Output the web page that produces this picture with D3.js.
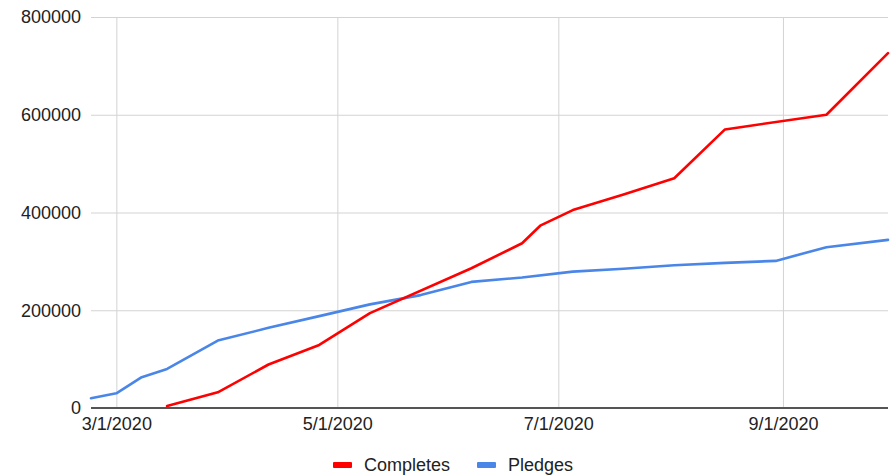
<!DOCTYPE html>
<html>
<head>
<meta charset="utf-8">
<script src="https://cdn.jsdelivr.net/npm/d3@7/dist/d3.min.js"></script>
<style>
  html, body { margin: 0; padding: 0; background: #fff; }
  svg { display: block; font-family: "Liberation Sans", Arial, Helvetica, sans-serif; }
</style>
</head>
<body>
<svg id="chart" width="890" height="476"></svg>
<script>
// Cumulative counts, 2020
const completeDates = ["2020-03-15", "2020-03-29", "2020-04-12", "2020-04-26", "2020-05-10",
  "2020-06-07", "2020-06-21", "2020-06-26", "2020-07-05", "2020-07-19", "2020-08-02",
  "2020-08-16", "2020-09-13", "2020-09-30"];
const completeValues = [4000, 32000, 89000, 129000, 194000,
  286000, 337000, 373000, 405000, 437000, 470000,
  570000, 600000, 726000];

const pledgeDates = ["2020-02-23", "2020-03-01", "2020-03-08", "2020-03-15", "2020-03-29",
  "2020-04-12", "2020-04-26", "2020-05-10", "2020-05-24", "2020-06-07", "2020-06-21",
  "2020-07-05", "2020-07-19", "2020-08-02", "2020-08-16", "2020-08-30", "2020-09-13", "2020-09-30"];
const pledgeValues = [20000, 30000, 63000, 80000, 138000,
  164000, 188000, 212000, 231000, 258000, 267000,
  279000, 285000, 292000, 297000, 301000, 329000, 344000];

const xTickDates = ["2020-03-01", "2020-05-01", "2020-07-01", "2020-09-01"];
const yTickValues = [0, 200000, 400000, 600000, 800000];
const domainStart = "2020-02-23";
const domainEnd = "2020-09-30";

const seriesNames = ["Completes", "Pledges"];
const seriesColors = ["#ff0000", "#4a86e8"];

const parse = d3.utcParse("%Y-%m-%d");
const fmtTick = d => `${d.getUTCMonth() + 1}/${d.getUTCDate()}/${d.getUTCFullYear()}`;

const svg = d3.select("#chart");
const plot = { left: 91, right: 888, top: 17, bottom: 408 };
const fontSize = 18;
const gridColor = "#d3d3d3";

const x = d3.scaleUtc().domain([parse(domainStart), parse(domainEnd)]).range([plot.left, plot.right]);
const y = d3.scaleLinear().domain([0, 800000]).range([plot.bottom, plot.top]);

// horizontal grid + y labels
const yAxis = d3.axisLeft(y).tickValues(yTickValues).tickSize(-(plot.right - plot.left)).tickPadding(10)
  .tickFormat(d3.format("d"));
const gy = svg.append("g").attr("transform", `translate(${plot.left},0)`).call(yAxis);
gy.select(".domain").remove();
gy.selectAll(".tick line").attr("stroke", gridColor).attr("stroke-width", 1);
gy.selectAll(".tick text").attr("fill", "#222").attr("font-size", fontSize)
  .attr("font-family", "Liberation Sans, Arial, sans-serif");

// vertical grid + x labels
const xAxis = d3.axisBottom(x).tickValues(xTickDates.map(parse)).tickSize(-(plot.bottom - plot.top))
  .tickPadding(9).tickFormat(fmtTick);
const gx = svg.append("g").attr("transform", `translate(0,${plot.bottom})`).call(xAxis);
gx.select(".domain").remove();
gx.selectAll(".tick line").attr("stroke", gridColor).attr("stroke-width", 1);
gx.selectAll(".tick text").attr("fill", "#222").attr("font-size", fontSize)
  .attr("font-family", "Liberation Sans, Arial, sans-serif");

// baseline at zero
svg.append("line").attr("x1", plot.left).attr("x2", plot.right)
  .attr("y1", y(0)).attr("y2", y(0))
  .attr("stroke", "#555").attr("stroke-width", 2);

const line = d3.line().x(d => x(d.date)).y(d => y(d.value));

const series = [
  { name: seriesNames[0], color: seriesColors[0],
    points: completeDates.map((d, i) => ({ date: parse(d), value: completeValues[i] })) },
  { name: seriesNames[1], color: seriesColors[1],
    points: pledgeDates.map((d, i) => ({ date: parse(d), value: pledgeValues[i] })) }
];

// pledges under completes
[series[1], series[0]].forEach(s => {
  svg.append("path").datum(s.points)
    .attr("fill", "none").attr("stroke", s.color).attr("stroke-width", 2.6)
    .attr("stroke-linejoin", "round").attr("stroke-linecap", "round")
    .attr("d", line);
});

// legend
const legend = svg.append("g").attr("transform", "translate(333,465)");
const offsets = [0, 144];
series.forEach((s, i) => {
  const g = legend.append("g").attr("transform", `translate(${offsets[i]},0)`);
  g.append("rect").attr("x", 0).attr("y", -3).attr("width", 19).attr("height", 6)
    .attr("rx", 1).attr("fill", s.color);
  g.append("text").attr("x", 31).attr("y", 0).attr("dy", "0.35em")
    .attr("font-size", fontSize).attr("fill", "#222").text(s.name);
});
</script>
</body>
</html>
